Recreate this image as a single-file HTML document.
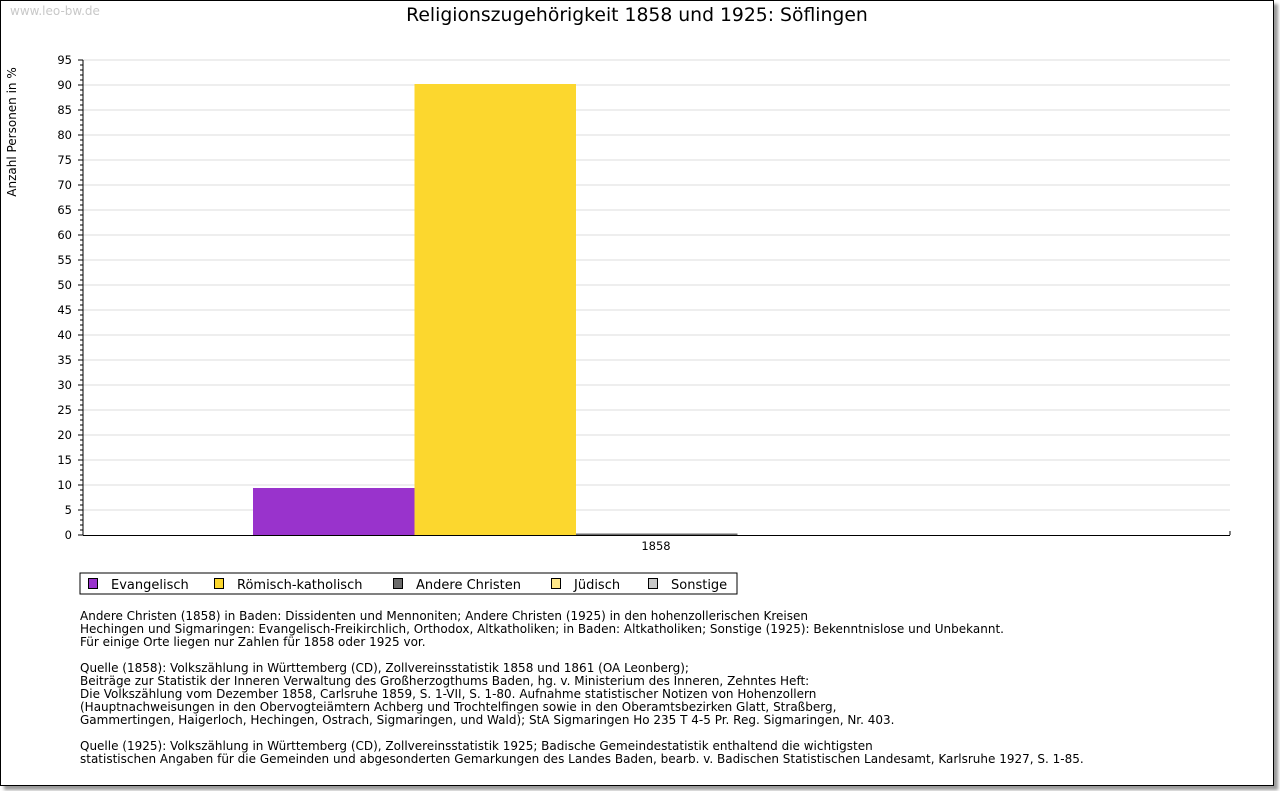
<!DOCTYPE html>
<html><head><meta charset="utf-8"><style>
body{margin:0;background:#fff;width:1280px;height:791px;overflow:hidden;font-family:"DejaVu Sans","Liberation Sans",sans-serif}
#frame{position:absolute;left:0;top:0;width:1272px;height:784px;border:1px solid #000;box-shadow:4px 4px 3px #999;background:#fff}
.note{position:absolute;left:80px;font-size:12px;line-height:13px;color:#000;white-space:pre}
</style></head><body>
<div id="frame"></div>
<svg id="chart" width="1280" height="791" style="position:absolute;left:0;top:0" font-family="DejaVu Sans, Liberation Sans, sans-serif">
<text x="10" y="15" font-size="12" fill="#c8c8c8">www.leo-bw.de</text>
<text x="637" y="21" font-size="18.8" text-anchor="middle" fill="#000">Religionszugehörigkeit 1858 und 1925: Söflingen</text>
<text transform="translate(16,132) rotate(-90)" font-size="12" text-anchor="middle" fill="#000">Anzahl Personen in %</text>
<g id="grid"></g><g id="bars"></g><g id="axes"></g>
<rect x="80" y="573" width="657" height="21" fill="#fff" stroke="#000"/>
<g id="legend"></g>
</svg>
<div class="note" style="top:610px">Andere Christen (1858) in Baden: Dissidenten und Mennoniten; Andere Christen (1925) in den hohenzollerischen Kreisen
Hechingen und Sigmaringen: Evangelisch-Freikirchlich, Orthodox, Altkatholiken; in Baden: Altkatholiken; Sonstige (1925): Bekenntnislose und Unbekannt.
Für einige Orte liegen nur Zahlen für 1858 oder 1925 vor.</div>
<div class="note" style="top:662px">Quelle (1858): Volkszählung in Württemberg (CD), Zollvereinsstatistik 1858 und 1861 (OA Leonberg);
Beiträge zur Statistik der Inneren Verwaltung des Großherzogthums Baden, hg. v. Ministerium des Inneren, Zehntes Heft:
Die Volkszählung vom Dezember 1858, Carlsruhe 1859, S. 1-VII, S. 1-80. Aufnahme statistischer Notizen von Hohenzollern
(Hauptnachweisungen in den Obervogteiämtern Achberg und Trochtelfingen sowie in den Oberamtsbezirken Glatt, Straßberg,
Gammertingen, Haigerloch, Hechingen, Ostrach, Sigmaringen, und Wald); StA Sigmaringen Ho 235 T 4-5 Pr. Reg. Sigmaringen, Nr. 403.</div>
<div class="note" style="top:740px">Quelle (1925): Volkszählung in Württemberg (CD), Zollvereinsstatistik 1925; Badische Gemeindestatistik enthaltend die wichtigsten
statistischen Angaben für die Gemeinden und abgesonderten Gemarkungen des Landes Baden, bearb. v. Badischen Statistischen Landesamt, Karlsruhe 1927, S. 1-85.</div>
<script>
const categories=["1858"];
const seriesNames=["Evangelisch","Römisch-katholisch","Andere Christen","Jüdisch","Sonstige"];
const seriesColors=["#9933cc","#fcd72e","#6b6b6b","#ffe88a","#c8c8c8"];
const values1858=[9.4,90.2,0.3,0,0];
const yTicks=[0,5,10,15,20,25,30,35,40,45,50,55,60,65,70,75,80,85,90,95];
const NS="http://www.w3.org/2000/svg";
const X0=83,X1=1230,Y0=535,Y1=60,YMAX=95;
const y=v=>Y0-(v/YMAX)*(Y0-Y1);
function mk(t,a,p){const e=document.createElementNS(NS,t);for(const k in a)e.setAttribute(k,a[k]);p.appendChild(e);return e;}
const grid=document.getElementById('grid'),axes=document.getElementById('axes'),bars=document.getElementById('bars'),leg=document.getElementById('legend');
yTicks.forEach(t=>{
  if(t>0){const l=mk('line',{x1:X0,x2:X1,y1:y(t),y2:y(t),stroke:'#dcdcdc'},grid);
  
  }
  const tx=mk('text',{x:72,y:y(t)+4,'font-size':11.5,'text-anchor':'end',fill:'#000'},axes);tx.textContent=t;
  
  
});
for(let v=0;v<=YMAX;v++){mk('line',{x1:X0-(v%5?3:5),x2:X0,y1:y(v),y2:y(v),stroke:'#000'},axes);}
mk('line',{x1:X0,x2:X0,y1:Y1,y2:Y0,stroke:'#000'},axes);
mk('line',{x1:X0,x2:X1,y1:Y0+0.5,y2:Y0+0.5,stroke:'#000'},axes);
mk('line',{x1:X1,x2:X1,y1:Y0-4,y2:Y0,stroke:'#000'},axes);
categories.forEach((c,ci)=>{
  const start=253,bw=161.5;
  values1858.forEach((v,si)=>{
    const r=mk('rect',{x:start+si*bw,y:y(v),width:bw,height:Y0-y(v),fill:seriesColors[si]},bars);
    
    
  });
  const tx=mk('text',{x:656,y:550,'font-size':11.5,'text-anchor':'middle',fill:'#000'},axes);tx.textContent=c;
  
  
});
const legX=[88,214,393,551,648];
seriesNames.forEach((n,i)=>{
  const g=mk('g',{},leg);
  
  
  mk('rect',{x:legX[i]+0.5,y:578.5,width:9,height:10,fill:seriesColors[i],stroke:'#000'},g);
  const t=mk('text',{x:legX[i]+23,y:589,'font-size':13,fill:'#000'},g);t.textContent=n;
});
</script>
</body></html>
